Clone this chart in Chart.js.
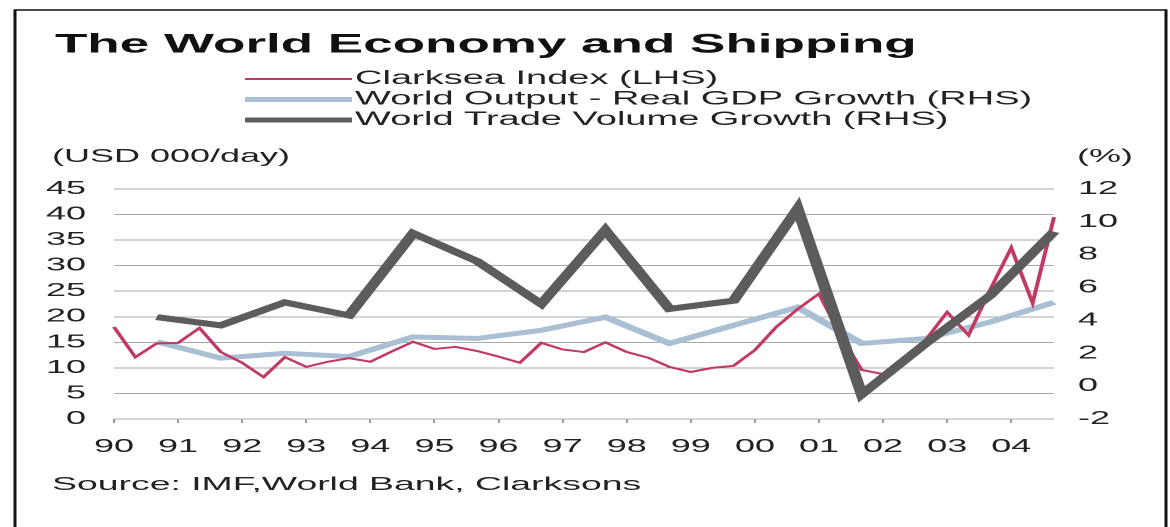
<!DOCTYPE html>
<html>
<head>
<meta charset="utf-8">
<script src="https://cdn.jsdelivr.net/npm/chart.js@4.4.1/dist/chart.umd.min.js"></script>
<style>
  html, body { margin: 0; padding: 0; background: #fff; overflow: hidden; }
  /* the original picture is stretched sideways: draw narrow, then scale x2 */
  #wrap { width: 585px; height: 527px; transform: scaleX(2); transform-origin: 0 0; }
</style>
</head>
<body>
<div id="wrap"><canvas id="chart"></canvas></div>
<script>
// Data
const years = ['90', '91', '92', '93', '94', '95', '96', '97', '98', '99', '00', '01', '02', '03', '04'];
// three points per year for the Clarksea index
const periods = years.flatMap(y => [y + '-1', y + '-2', y + '-3']);

const clarksea = [
  18.0, 12.1, 14.8, 14.9, 17.8, 13.1, 11.0, 8.2, 12.1, 10.2, 11.2, 11.9, 11.2, 13.2, 15.1,
  13.7, 14.1, 13.3, 12.2, 11.0, 14.9, 13.6, 13.1, 15.0, 13.1, 12.0, 10.2, 9.2, 10.0, 10.4,
  13.5, 18.0, 21.5, 24.5, 16.4, 9.6, 8.8, 11.2, 15.5, 20.9, 16.4, 25.2, 33.5, 22.7, 39.5
];
const gdpGrowth = [2.7, 1.7, 2.0, 1.8, 3.0, 2.9, 3.4, 4.2, 2.6, 3.7, 4.8, 2.6, 2.9, 3.9, 5.1];
const tradeGrowth = [4.2, 3.7, 5.1, 4.3, 9.3, 7.6, 5.0, 9.5, 4.7, 5.2, 10.8, -0.5, 2.6, 5.5, 9.4];

const leftTicks = { min: 0, max: 45, step: 5 };
const rightTicks = { min: -2, max: 12, step: 2 };

const title = 'The World Economy and Shipping';
const leftUnit = '(USD 000/day)';
const rightUnit = '(%)';
const source = 'Source: IMF,World Bank, Clarksons';

const FONT = '"Liberation Sans", Arial, sans-serif';
const TEXT = '#222';

// annual values sit on the last period of each year
const annual = vals => years.map((y, i) => ({ x: y + '-3', y: vals[i] }));

const dsTrade = {
  label: 'World Trade Volume Growth (RHS)',
  data: annual(tradeGrowth), yAxisID: 'y1',
  borderColor: '#5c5c5c', borderWidth: 6, order: 0
};
const dsClarksea = {
  label: 'Clarksea Index (LHS)',
  data: clarksea, yAxisID: 'y',
  borderColor: '#c23a63', borderWidth: 2, order: 1
};
const dsGdp = {
  label: 'World Output - Real GDP Growth (RHS)',
  data: annual(gdpGrowth), yAxisID: 'y1',
  borderColor: '#a9bfd3', borderWidth: 5, order: 2
};

// frame, title, legend, units and source
const decor = {
  id: 'decor',
  afterDraw(chart) {
    const c = chart.ctx;
    c.save();
    c.strokeStyle = '#111';
    c.lineWidth = 1.5;
    c.beginPath();
    c.moveTo(7.5, 527);
    c.lineTo(7.5, 10);
    c.lineTo(583, 10);
    c.lineTo(583, 527);
    c.stroke();

    c.fillStyle = '#111';
    c.textBaseline = 'middle';
    c.textAlign = 'left';
    c.font = 'bold 26.5px ' + FONT;
    c.fillText(title, 27.5, 45);

    c.font = '19px ' + FONT;
    [dsClarksea, dsGdp, dsTrade].forEach((ds, k) => {
      const y = 79 + k * 20.5;
      c.strokeStyle = ds.borderColor;
      c.lineWidth = ds.borderWidth === 6 ? 5 : ds.borderWidth;
      c.beginPath();
      c.moveTo(122.5, y);
      c.lineTo(176, y);
      c.stroke();
      c.fillStyle = TEXT;
      c.fillText(ds.label, 177.5, y);
    });

    c.font = '18px ' + FONT;
    c.fillText(leftUnit, 26, 157);
    c.fillText(rightUnit, 538.5, 157);
    c.font = '18.7px ' + FONT;
    c.fillText(source, 26, 485);
    c.restore();
  }
};

new Chart(document.getElementById('chart'), {
  type: 'line',
  data: {
    labels: periods,
    datasets: [dsTrade, dsClarksea, dsGdp]
  },
  options: {
    responsive: true,
    maintainAspectRatio: false,
    animation: false,
    devicePixelRatio: 2,
    layout: { padding: { top: 189, bottom: 68, left: 0, right: 0 } },
    elements: { point: { radius: 0 }, line: { tension: 0 } },
    plugins: { legend: { display: false }, tooltip: { enabled: false } },
    scales: {
      x: {
        type: 'category',
        grid: {
          drawOnChartArea: false, drawTicks: true, tickLength: 4,
          color: ctx => ctx.index % 3 === 0 ? '#9a9a9a' : 'rgba(0,0,0,0)'
        },
        border: { display: false },
        ticks: {
          autoSkip: false, maxRotation: 0, minRotation: 0, padding: 13,
          color: TEXT, font: { family: FONT, size: 18 },
          callback: (v, i) => i % 3 === 0 ? years[i / 3] : ''
        },
        afterFit: s => { s.height = 40; }
      },
      y: {
        position: 'left',
        min: leftTicks.min, max: leftTicks.max,
        ticks: { stepSize: leftTicks.step, padding: 14, color: TEXT, font: { family: FONT, size: 18 } },
        grid: { color: '#a8a8a8', drawTicks: false },
        border: { display: false },
        afterFit: s => { s.width = 57; }
      },
      y1: {
        position: 'right',
        min: rightTicks.min, max: rightTicks.max,
        ticks: { stepSize: rightTicks.step, padding: 12, color: TEXT, font: { family: FONT, size: 18 } },
        grid: { drawOnChartArea: false, drawTicks: false },
        border: { display: false },
        afterFit: s => { s.width = 58; }
      }
    }
  },
  plugins: [decor]
});
</script>
</body>
</html>
